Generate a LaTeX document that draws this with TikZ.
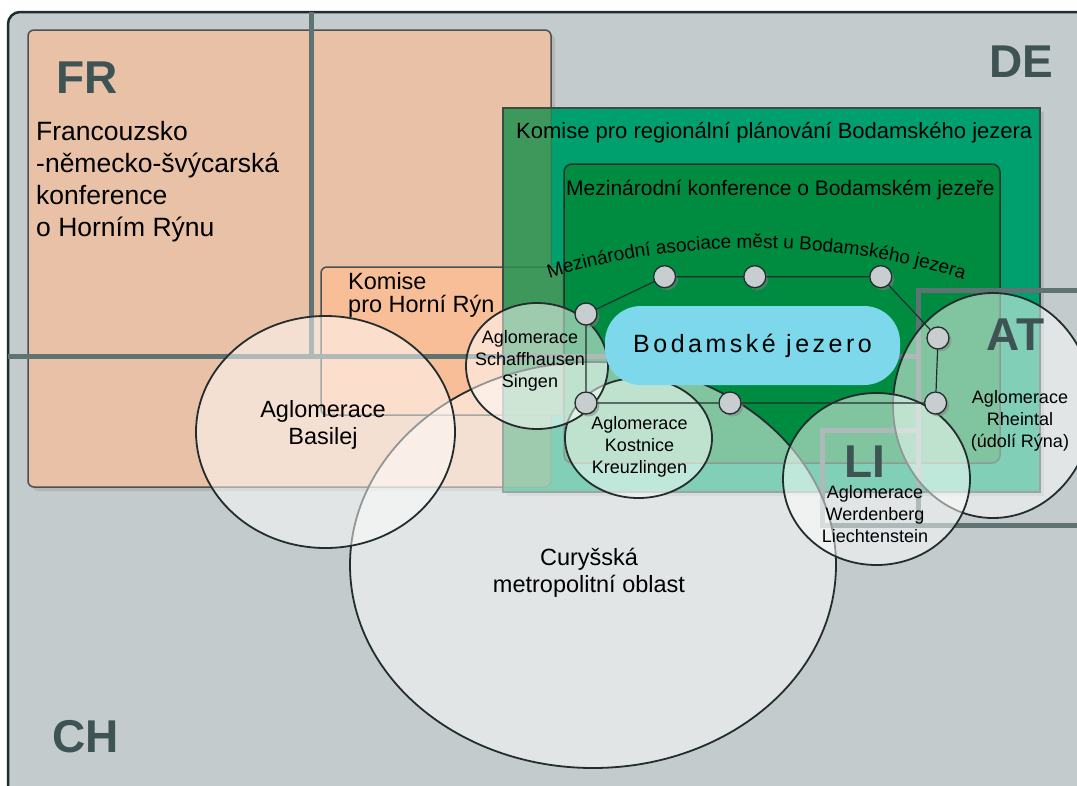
\documentclass[tikz,border=0pt]{standalone}
\usepackage{fontspec}
\setmainfont{Liberation Sans}
\usetikzlibrary{shadows,shapes.geometric,decorations.text}
\definecolor{bgc}{RGB}{196,203,204}
\definecolor{outc}{RGB}{30,45,45}
\definecolor{frc}{RGB}{233,193,166}
\definecolor{komc}{RGB}{247,190,152}
\definecolor{boxedge}{RGB}{75,80,80}
\definecolor{greenA}{RGB}{0,160,110}
\definecolor{greenB}{RGB}{0,140,64}
\definecolor{greenM}{RGB}{62,152,92}
\definecolor{greenMe}{RGB}{45,120,75}
\definecolor{gedge}{RGB}{60,75,70}
\definecolor{gedgeB}{RGB}{25,55,40}
\definecolor{lakec}{RGB}{125,216,236}
\definecolor{bordc}{RGB}{95,115,115}
\definecolor{labc}{RGB}{62,84,84}
\definecolor{dotc}{RGB}{200,205,208}
\definecolor{edgec}{RGB}{35,45,45}
\begin{document}
\begin{tikzpicture}[x=1pt,y=-1pt,
  every node/.style={inner sep=0pt},
  countrylbl/.style={font=\bfseries\fontsize{46}{46}\selectfont, text=labc, anchor=base west},
  bigtext/.style={font=\fontsize{26.5}{32}\selectfont, align=left, anchor=west},
  komtext/.style={font=\fontsize{23.5}{23}\selectfont, align=left, anchor=west},
  ttlA/.style={font=\fontsize{22}{26}\selectfont, anchor=base west},
  ttlB/.style={font=\fontsize{21}{26}\selectfont, anchor=base west},
  agglo/.style={ellipse, draw=edgec, line width=1.8pt, fill=white, fill opacity=0.5},
  agtxt/.style={font=\fontsize{18}{22}\selectfont, align=center},
  agtxtL/.style={font=\fontsize{23.5}{27}\selectfont, align=center},
  dot/.style={circle, minimum size=22pt, fill=dotc, draw=edgec, line width=1.3pt,
    drop shadow={shadow xshift=2.5pt, shadow yshift=-2.5pt, opacity=0.5}},
  link/.style={draw=edgec, line width=1.2pt},
  border/.style={draw=bordc, line width=5pt},
  lakebox/.style={rounded corners=36pt, fill=lakec, minimum width=295pt, minimum height=79pt,
    font=\fontsize{25}{30}\selectfont\addfontfeature{LetterSpace=14}},
]
\useasboundingbox (0,0) rectangle (1077,785);
\fill[white] (0,0) rectangle (1077,785);
\clip (0,0) rectangle (1077,785);
% CH background
\draw[fill=bgc, draw=outc, line width=2.5pt, rounded corners=12pt] (8,12) rectangle (1110,820);
% FR box
\draw[fill=frc, draw=boxedge, line width=1.5pt, rounded corners=6pt,
  drop shadow={shadow xshift=4pt, shadow yshift=-4pt, opacity=0.25}] (28,30) rectangle (551,487);
% Komise pro Horni Ryn
\draw[fill=komc, draw=boxedge, line width=1.5pt, rounded corners=6pt] (321,267) rectangle (563,415);
% outer green box
\draw[fill=greenA, draw=gedge, line width=1.5pt,
  drop shadow={shadow xshift=4pt, shadow yshift=-4pt, opacity=0.25}] (503,108) rectangle (1040,492);
\begin{scope}
  \clip (503,108) rectangle (1040,492);
  \draw[fill=greenM, draw=greenMe, line width=1pt, rounded corners=6pt] (28,30) rectangle (551,487);
  \draw[fill=greenM, draw=greenMe, line width=1pt, rounded corners=6pt] (321,267) rectangle (563,415);
\end{scope}
\draw[draw=gedge, line width=1.5pt] (503,108) rectangle (1040,492);
% inner green box
\draw[fill=greenB, draw=gedgeB, line width=1.5pt, rounded corners=8pt] (564,164) rectangle (1000,463);
\node[ttlA] (ttlouter) at (516,138) {Komise pro regionální plánování Bodamského jezera};
\node[ttlB] (ttlinner) at (566,195) {Mezinárodní konference o Bodamském jezeře};
\path[decorate, decoration={text along path, text align=center,
  text={|\fontsize{19}{20}\selectfont|Mezinárodní asociace měst u Bodamského jezera}}]
  (519.5,288.3) -- (548,279) .. controls (677,237) and (836,238) .. (965,280) -- (993.5,289.3);
% country borders
\draw[border] (8,356) -- (918,356);
\draw[border] (311,12) -- (311,356);
\draw[border] (1090,290) -- (918,290) -- (918,525) -- (1090,525);
\draw[border] (918,525) -- (822,525) -- (822,430) -- (918,430);
% agglomerations
\node[agglo, minimum width=486pt, minimum height=406pt] (zurich) at (593,565) {};
\node[agglo, minimum width=259pt, minimum height=232pt] (basel) at (325.5,432) {};
\node[agglo, minimum width=147pt, minimum height=120pt] (kostnice) at (638.5,438) {};
\node[agglo, minimum width=142pt, minimum height=126pt] (schaff) at (537,366) {};
\node[agglo, minimum width=200pt, minimum height=225pt] (rhein) at (993,405.5) {};
\node[agglo, minimum width=187pt, minimum height=172pt] (werden) at (876.5,479) {};
% lake
\node[lakebox] (lake) at (752.5,345.5) {Bodamské jezero};
% association of cities
\node[dot] (n1) at (664.6,276.7) {};
\node[dot] (n2) at (754.8,276.7) {};
\node[dot] (n3) at (880.8,276.7) {};
\node[dot] (n4) at (586,314) {};
\node[dot] (n5) at (938,338) {};
\node[dot] (n6) at (586,403) {};
\node[dot] (n7) at (730,403) {};
\node[dot] (n8) at (935.6,403) {};
\draw[link] (n4) -- (n1) -- (n2) -- (n3) -- (n5) -- (n8) -- (n7) -- (n6) -- (n4);
% texts
\node[bigtext] (frtxt) at (36,181.3) {Francouzsko\\-německo-švýcarská\\konference\\o Horním Rýnu};
\node[komtext] (komtxt) at (348,294.5) {Komise\\pro Horní Rýn};
\node[agtxtL] (baseltxt) at (323,424.5) {Aglomerace\\Basilej};
\node[agtxtL] (zurtxt) at (589,572.5) {Curyšská\\metropolitní oblast};
\node[agtxt] (schafftxt) at (530,360.4) {Aglomerace\\Schaffhausen\\Singen};
\node[agtxt] (kosttxt) at (639.5,447) {Aglomerace\\Kostnice\\Kreuzlingen};
\node[agtxt] (werdtxt) at (875,514) {Aglomerace\\Werdenberg\\Liechtenstein};
\node[agtxt] (rheintxt) at (1020,420.5) {Aglomerace\\Rheintal\\(údolí Rýna)};
% country labels
\node[countrylbl] (FR) at (56,93) {FR};
\node[countrylbl] (DE) at (989,77) {DE};
\node[countrylbl] (AT) at (986,350) {AT};
\node[countrylbl] (LI) at (844,477) {LI};
\node[countrylbl] (CH) at (52,752) {CH};
\end{tikzpicture}
\end{document}
